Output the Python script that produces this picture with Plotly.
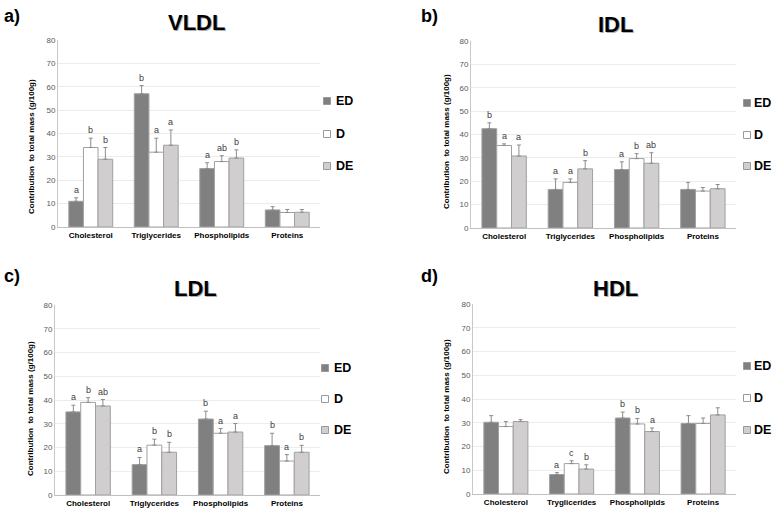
import plotly.graph_objects as go

categories = ["Cholesterol", "Triglycerides", "Phospholipids", "Proteins"]
categories_hdl = ["Cholesterol", "Tryglicerides", "Phospholipids", "Proteins"]
groups = ["ED", "D", "DE"]
y_ticks = [0, 10, 20, 30, 40, 50, 60, 70, 80]

vldl_ed = [11.0, 57.0, 25.0, 7.3]
vldl_ed_err = [1.5, 3.5, 2.5, 1.4]
vldl_d = [34.0, 32.0, 28.0, 6.2]
vldl_d_err = [4.0, 6.0, 2.5, 1.3]
vldl_de = [29.0, 35.0, 29.5, 6.3]
vldl_de_err = [5.0, 6.5, 3.5, 1.2]
vldl_ed_lab = ["a", "b", "a", ""]
vldl_d_lab = ["b", "a", "ab", ""]
vldl_de_lab = ["b", "a", "b", ""]

idl_ed = [42.5, 16.5, 25.0, 16.5]
idl_ed_err = [2.5, 4.5, 3.3, 3.0]
idl_d = [35.3, 19.5, 29.7, 15.8]
idl_d_err = [0.7, 1.5, 2.1, 1.5]
idl_de = [30.8, 25.3, 27.7, 16.8]
idl_de_err = [4.7, 3.5, 4.5, 1.8]
idl_ed_lab = ["b", "a", "a", ""]
idl_d_lab = ["a", "a", "b", ""]
idl_de_lab = ["a", "b", "ab", ""]

ldl_ed = [35.0, 12.8, 32.0, 20.8]
ldl_ed_err = [2.8, 3.0, 3.3, 5.2]
ldl_d = [39.0, 21.0, 26.0, 14.3]
ldl_d_err = [2.0, 2.5, 2.0, 2.7]
ldl_de = [37.5, 18.0, 26.5, 18.0]
ldl_de_err = [2.7, 4.2, 3.6, 2.9]
ldl_ed_lab = ["a", "a", "b", "b"]
ldl_d_lab = ["b", "b", "a", "a"]
ldl_de_lab = ["ab", "b", "a", "b"]

hdl_ed = [30.2, 8.2, 32.0, 29.7]
hdl_ed_err = [2.8, 0.8, 2.5, 3.3]
hdl_d = [28.4, 12.8, 29.5, 29.7]
hdl_d_err = [2.1, 1.2, 2.3, 2.3]
hdl_de = [30.5, 10.5, 26.3, 33.3]
hdl_de_err = [0.8, 1.8, 1.5, 3.0]
hdl_ed_lab = ["", "a", "b", ""]
hdl_d_lab = ["", "c", "b", ""]
hdl_de_lab = ["", "b", "a", ""]

panels = [
    dict(title="VLDL", tag="a)", cats=categories,
         vals=[vldl_ed, vldl_d, vldl_de], errs=[vldl_ed_err, vldl_d_err, vldl_de_err],
         labs=[vldl_ed_lab, vldl_d_lab, vldl_de_lab]),
    dict(title="IDL", tag="b)", cats=categories,
         vals=[idl_ed, idl_d, idl_de], errs=[idl_ed_err, idl_d_err, idl_de_err],
         labs=[idl_ed_lab, idl_d_lab, idl_de_lab]),
    dict(title="LDL", tag="c)", cats=categories,
         vals=[ldl_ed, ldl_d, ldl_de], errs=[ldl_ed_err, ldl_d_err, ldl_de_err],
         labs=[ldl_ed_lab, ldl_d_lab, ldl_de_lab]),
    dict(title="HDL", tag="d)", cats=categories_hdl,
         vals=[hdl_ed, hdl_d, hdl_de], errs=[hdl_ed_err, hdl_d_err, hdl_de_err],
         labs=[hdl_ed_lab, hdl_d_lab, hdl_de_lab]),
]

W, H = 776, 512
# pixel boxes: (x0, x1, ytop, ybottom)
boxes = [(58, 320, 40, 227), (471, 736, 41, 228), (55, 320, 305, 495), (473, 736, 304, 494)]
title_pos = [(196, 22), (615, 24), (195, 288), (615, 288)]
tag_pos = [(2, 16), (419, 16), (2, 276), (419, 276)]
# legend: square centre x, text start x, row y centres
legend_pos = [(327, 334, [101, 134, 166]), (747, 752, [103, 135, 166]),
              (325, 332, [368, 399, 430]), (747, 752, [366, 398, 430])]
ytitle_pos = [(31, 147), (446, 141), (30, 409), (446, 406)]

fills = ["#808080", "#ffffff", "#d0cece"]
outline = "#a0a0a0"
FONT = "Liberation Sans, Arial, sans-serif"
bar_w = (1 - 0.33) / 3
offsets = [-bar_w, 0, bar_w]

fig = go.Figure()
annotations = []
shapes = []
layout = {}
for p, panel in enumerate(panels):
    sfx = "" if p == 0 else str(p + 1)
    xa, ya = "x" + sfx, "y" + sfx
    x0, x1, yt, yb = boxes[p]
    for g in range(3):
        fig.add_trace(go.Bar(
            x=panel["cats"], y=panel["vals"][g], name=groups[g],
            xaxis=xa, yaxis=ya, showlegend=False,
            marker=dict(color=fills[g], line=dict(color=outline, width=1)),
            error_y=dict(type="data", symmetric=False, array=panel["errs"][g],
                         arrayminus=[0] * 4, color="#8c8c8c", thickness=1, width=2),
        ))
        for i in range(4):
            lab = panel["labs"][g][i]
            if lab:
                annotations.append(dict(
                    x=i + offsets[g], y=panel["vals"][g][i] + panel["errs"][g][i],
                    xref=xa, yref=ya, text=lab, showarrow=False,
                    xanchor="center", yanchor="bottom", yshift=1,
                    font=dict(family=FONT, size=9, color="#404040")))
        # legend entry
        sx, tx0, rows = legend_pos[p]
        ry = rows[g]
        shapes.append(dict(
            type="rect", xref="paper", yref="paper",
            x0=(sx - 3.5) / W, x1=(sx + 3.5) / W,
            y0=1 - (ry + 3.5) / H, y1=1 - (ry - 3.5) / H,
            fillcolor=fills[g], line=dict(color="#9a9a9a", width=1)))
        annotations.append(dict(
            x=tx0 / W, y=1 - ry / H, xref="paper", yref="paper",
            xanchor="left", yanchor="middle", text="<b>" + groups[g] + "</b>",
            showarrow=False, font=dict(family=FONT, size=12.5, color="#000000")))
    layout["xaxis" + sfx] = dict(
        domain=[x0 / W, x1 / W], anchor=ya, type="category",
        showline=True, linecolor="#c0c0c0", linewidth=1, ticks="",
        tickfont=dict(family=FONT, size=8, color="#000000", weight="bold"),
        showgrid=False, fixedrange=True)
    layout["yaxis" + sfx] = dict(
        domain=[1 - yb / H, 1 - yt / H], anchor=xa, range=[0, 80],
        tickvals=y_ticks, showline=True, linecolor="#c8c8c8", linewidth=1,
        showgrid=True, gridcolor="#ececec", gridwidth=1, zeroline=False, ticks="",
        tickfont=dict(family=FONT, size=8, color="#595959"), fixedrange=True)
    tx, ty = title_pos[p]
    annotations.append(dict(
        x=(tx + 1.5) / W, y=1 - (ty + 1.5) / H, xref="paper", yref="paper",
        xanchor="center", yanchor="middle",
        text="<b>" + panel["title"] + "</b>", showarrow=False,
        font=dict(family=FONT, size=22, color="#b0b0b0")))
    annotations.append(dict(
        x=tx / W, y=1 - ty / H, xref="paper", yref="paper",
        xanchor="center", yanchor="middle",
        text="<b>" + panel["title"] + "</b>", showarrow=False,
        font=dict(family=FONT, size=22, color="#000000")))
    gx, gy = tag_pos[p]
    annotations.append(dict(
        x=gx / W, y=1 - gy / H, xref="paper", yref="paper",
        xanchor="left", yanchor="middle",
        text="<b>" + panel["tag"] + "</b>", showarrow=False,
        font=dict(family=FONT, size=18, color="#000000")))
    qx, qy = ytitle_pos[p]
    annotations.append(dict(
        x=qx / W, y=1 - qy / H, xref="paper", yref="paper",
        xanchor="center", yanchor="middle",
        text="<b>Contribution  to total mass (g/100g)</b>", showarrow=False,
        textangle=-90, font=dict(family=FONT, size=8, color="#000000")))

fig.update_layout(
    width=W, height=H, margin=dict(l=0, r=0, t=0, b=0, autoexpand=False),
    paper_bgcolor="white", plot_bgcolor="white",
    barmode="group", bargap=0.33, bargroupgap=0, showlegend=False,
    hovermode=False,
    annotations=annotations, shapes=shapes, **layout)

fig.write_html("out.html", config={"displayModeBar": False},
               post_script="document.body.style.margin='0';document.body.style.overflow='hidden';")
